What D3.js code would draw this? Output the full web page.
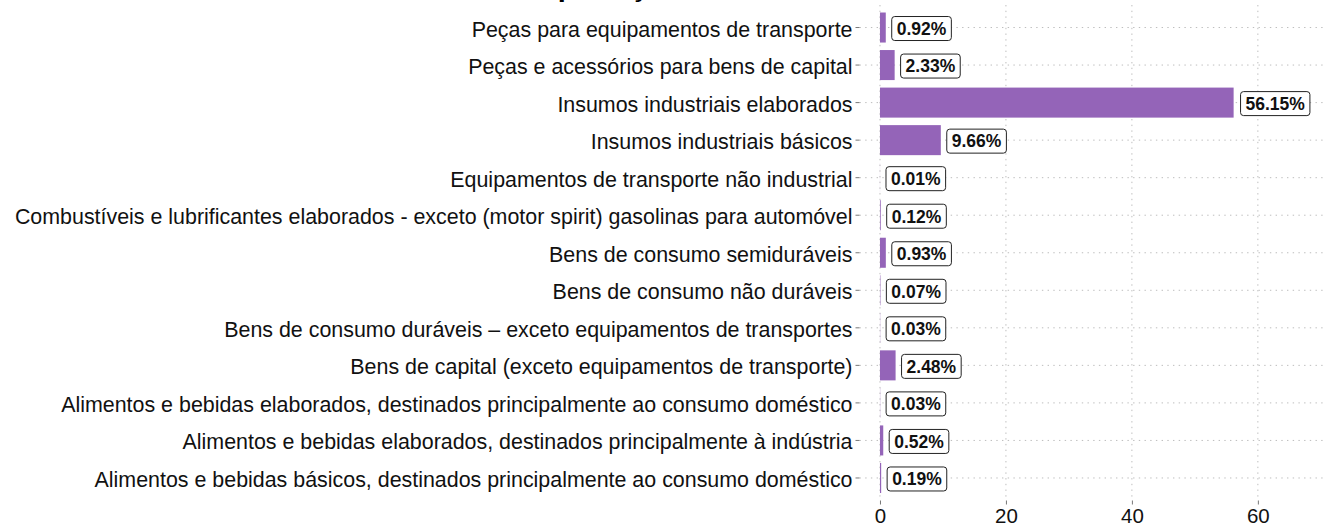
<!DOCTYPE html>
<meta charset="utf-8">
<style>
body { margin: 0; background: #fff; }
svg { font-family: "Liberation Sans", Arial, sans-serif; }
.grid line { stroke: #bdbdbd; stroke-width: 1; stroke-dasharray: 1.4,4.3; }
.tick line { stroke: #777; }
</style>
<svg width="1324" height="524"></svg>
<script src="https://d3js.org/d3.v7.min.js"></script>
<script>

var categories = [
  "Peças para equipamentos de transporte",
  "Peças e acessórios para bens de capital",
  "Insumos industriais elaborados",
  "Insumos industriais básicos",
  "Equipamentos de transporte não industrial",
  "Combustíveis e lubrificantes elaborados - exceto (motor spirit) gasolinas para automóvel",
  "Bens de consumo semiduráveis",
  "Bens de consumo não duráveis",
  "Bens de consumo duráveis – exceto equipamentos de transportes",
  "Bens de capital (exceto equipamentos de transporte)",
  "Alimentos e bebidas elaborados, destinados principalmente ao consumo doméstico",
  "Alimentos e bebidas elaborados, destinados principalmente à indústria",
  "Alimentos e bebidas básicos, destinados principalmente ao consumo doméstico"
];
var shares = [0.92, 2.33, 56.15, 9.66, 0.01, 0.12, 0.93, 0.07, 0.03, 2.48, 0.03, 0.52, 0.19];
var xTicks = [0, 20, 40, 60];

var svg = d3.select("svg"),
    pLeft = 859.5, pRight = 1324, pTop = 5, pBottom = 500.5;

var x = d3.scaleLinear().domain([-3.25, 70.5]).range([pLeft, pRight]);
var y = d3.scaleBand().domain(categories).range([pTop, pBottom])
    .paddingInner(0.2).paddingOuter(0.2);

// title, mostly cut off above the frame
svg.append("text")
    .attr("x", 524).attr("y", -4)
    .attr("font-size", 29).attr("font-weight", "bold")
    .text("Importação");

// grid
var grid = svg.append("g").attr("class", "grid");
grid.selectAll(".v").data(xTicks).enter().append("line")
    .attr("x1", d => x(d)).attr("x2", d => x(d))
    .attr("y1", pTop).attr("y2", pBottom);
grid.selectAll(".h").data(categories).enter().append("line")
    .attr("x1", pLeft).attr("x2", pRight)
    .attr("y1", d => y(d) + y.bandwidth() / 2)
    .attr("y2", d => y(d) + y.bandwidth() / 2);

// axes
var yAxis = svg.append("g")
    .attr("transform", "translate(" + pLeft + ",0)")
    .call(d3.axisLeft(y).tickSize(4).tickPadding(3));
yAxis.select(".domain").remove();
yAxis.selectAll("text").attr("font-size", 21.42).attr("fill", "#111")
    .attr("dy", "0.42em")
    .attr("font-family", "Liberation Sans, Arial, sans-serif");

var xAxis = svg.append("g")
    .attr("transform", "translate(0," + pBottom + ")")
    .call(d3.axisBottom(x).tickValues(xTicks).tickSize(4).tickPadding(4));
xAxis.select(".domain").remove();
xAxis.selectAll("text").attr("font-size", 20.5).attr("fill", "#111")
    .attr("font-family", "Liberation Sans, Arial, sans-serif");

// bars
svg.selectAll(".bar").data(categories).enter().append("rect")
    .attr("class", "bar")
    .attr("x", x(0))
    .attr("y", d => y(d))
    .attr("width", (d, i) => x(shares[i]) - x(0))
    .attr("height", y.bandwidth())
    .attr("fill", "#9464b8");

// value labels
var lab = svg.selectAll(".lab").data(categories).enter().append("g").attr("class", "lab");
lab.each(function(d, i) {
  var g = d3.select(this);
  var t = g.append("text")
      .attr("font-size", 17.5).attr("font-weight", "bold").attr("fill", "#111")
      .attr("dy", "0.36em")
      .text(shares[i].toFixed(2) + "%");
  var w = t.node().getComputedTextLength() + 10, h = 24;
  var x0 = x(shares[i]) + 0.1 * w, cy = y(d) + y.bandwidth() / 2 + 1;
  g.insert("rect", "text")
      .attr("x", x0).attr("y", cy - h / 2)
      .attr("width", w).attr("height", h)
      .attr("rx", 3).attr("ry", 3)
      .attr("fill", "#fff").attr("stroke", "#222").attr("stroke-width", 1);
  t.attr("x", x0 + 5).attr("y", cy);
});

</script>
